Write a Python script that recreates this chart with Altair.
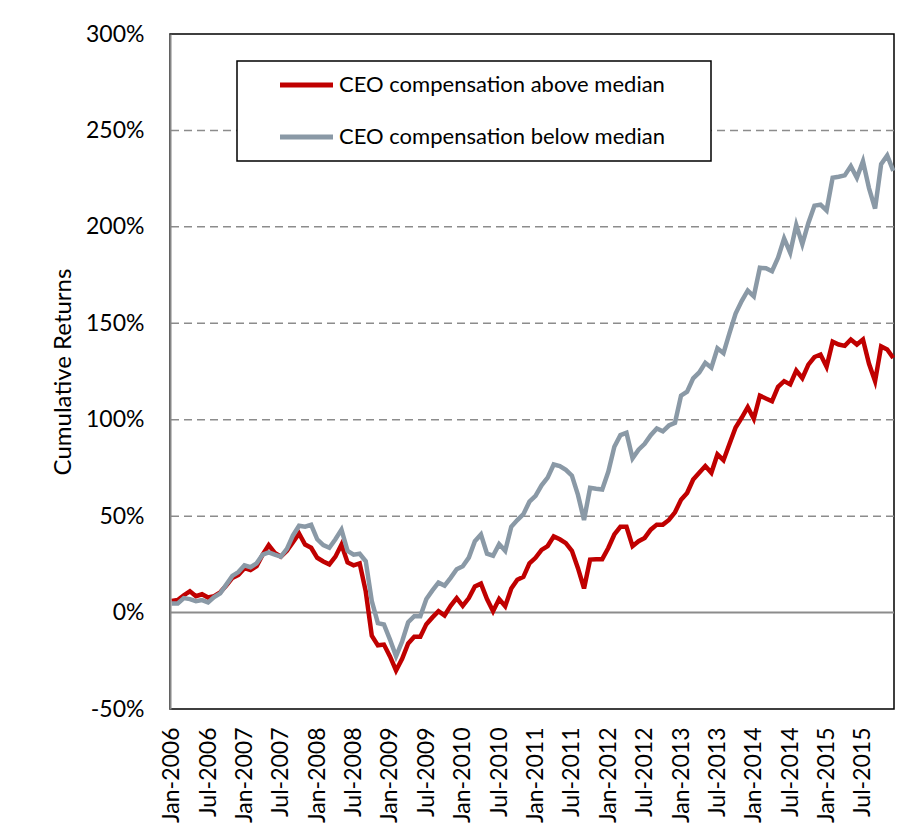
import json
import altair as alt
import pandas as pd

# ---------------- data ----------------
series_names = ["CEO compensation above median", "CEO compensation below median"]
series_colors = ["#C00000", "#8A99A6"]

# monthly cumulative returns (%), Jan-2006 .. Dec-2015
above_median = [
    6, 6.5, 9, 11, 8.5, 9.5, 7.8, 8.5, 10.5, 14,
    18, 19.5, 23, 22, 24, 30, 35, 31, 29, 32,
    36.5, 41, 35.3, 33.6, 28.4, 26.5, 25, 29, 35.3, 26,
    24.5, 25.5, 11, -12, -17, -16.6, -22.7, -30, -24, -16,
    -12.5, -12.5, -6, -2.5, 0.7, -1.5, 3.5, 7.5, 3.5, 7.5,
    13.5, 15, 7, 0.7, 7, 3.3, 12.5, 17, 18.5, 25.5,
    28.4, 32.5, 34.5, 39.5, 38, 36, 32, 23, 12.5, 27.5,
    27.7, 27.7, 33.5, 40.5, 44.5, 44.5, 34.4, 37, 38.7, 43,
    45.6, 45.6, 48, 52, 58.5, 62, 69, 72.5, 76, 72.5,
    82, 79, 87.5, 96, 101, 106.5, 100.5, 112.5, 111, 109.6,
    117, 120, 118.3, 125.5, 121.5, 128.6, 132.5, 133.8, 127.5, 140.5,
    139, 138.3, 141.6, 139, 141.6, 129, 120, 138, 136.4, 132,
]
below_median = [
    4.7, 4.7, 7.5, 7, 5.9, 6.5, 5.3, 8, 10, 14.5,
    19, 21, 24.5, 23.5, 25.5, 30, 31.2, 30, 29, 33,
    40, 45, 44.5, 45.5, 38, 35, 33.6, 38, 43, 32,
    30, 30.5, 26.6, 6, -5.5, -6.2, -14, -22.7, -15, -5,
    -1.9, -1.9, 7, 11.5, 15.5, 14, 18, 22.5, 24, 28.5,
    37, 40.5, 30.5, 29.5, 35.5, 32, 44.5, 48, 51, 57.5,
    60.5, 66, 70, 76.8, 76, 74, 71, 61, 48, 64.7,
    64.2, 63.8, 73, 86, 92, 93.2, 80, 84.5, 87.5, 92,
    95.5, 94, 97, 98.4, 112.5, 114.5, 121.5, 124.5, 129.5, 127,
    137, 134.5, 145, 155, 161.5, 167, 164, 178.8, 178.5, 177,
    184, 194, 186.6, 201, 191, 202, 211, 211.5, 208.5, 225.5,
    226, 226.7, 231.5, 225.5, 234, 220, 209.5, 232.5, 237, 229,
]
tick_labels = [
    "Jan-2006", "Jul-2006", "Jan-2007", "Jul-2007", "Jan-2008", "Jul-2008",
    "Jan-2009", "Jul-2009", "Jan-2010", "Jul-2010", "Jan-2011", "Jul-2011",
    "Jan-2012", "Jul-2012", "Jan-2013", "Jul-2013", "Jan-2014", "Jul-2014",
    "Jan-2015", "Jul-2015",
]
y_ticks = [-50, 0, 50, 100, 150, 200, 250, 300]
grid_values = [50, 100, 150, 200, 250]
zero_values = [0]

n = len(above_median)
df = pd.DataFrame({
    "month": list(range(n)) * 2,
    "value": above_median + below_median,
    "series": [series_names[0]] * n + [series_names[1]] * n,
})

# ---------------- styling ----------------
FONT = "Lato"
FS_LABEL = 23
FS_TITLE = 24
FS_LEGEND = 22
W, H = 724, 675

x_scale = alt.Scale(domain=[-0.28, n - 1 + 0.12], nice=False, zero=False)
y_scale = alt.Scale(domain=[-50, 300], nice=False, zero=False)
color_scale = alt.Scale(domain=series_names, range=series_colors)

label_expr = json.dumps(tick_labels) + "[round(datum.value / 6)]"

x_axis = alt.Axis(
    values=list(range(0, 6 * len(tick_labels), 6)), labelExpr=label_expr,
    labelAngle=-90, labelAlign="right", labelBaseline="middle", labelPadding=18,
    labelFlush=False, labelOverlap=False, ticks=False, tickSize=0, domain=False,
    grid=False, title=None, labelFont=FONT, labelFontSize=FS_LABEL, labelColor="black",
)
y_axis = alt.Axis(
    values=y_ticks, labelExpr="datum.value + '%'", ticks=False, tickSize=0,
    domain=True, domainColor="#868686", domainWidth=2, grid=False,
    labelPadding=26, labelFlush=False, labelOverlap=False,
    labelFont=FONT, labelFontSize=FS_LABEL, labelColor="black",
    title="Cumulative Returns", titleX=-107, titleY=H / 2, titleAngle=-90,
    titleAlign="center", titleBaseline="middle", titleFont=FONT,
    titleFontSize=FS_TITLE, titleFontWeight="normal", titleColor="black", zindex=1,
)

grid = alt.Chart(pd.DataFrame({"v": grid_values})).mark_rule(
    color="#8C8C8C", strokeWidth=1.5, strokeDash=[8, 5]
).encode(y=alt.Y("v:Q", scale=y_scale, axis=y_axis))

zero = alt.Chart(pd.DataFrame({"v": zero_values})).mark_rule(
    color="#8C8C8C", strokeWidth=2
).encode(y=alt.Y("v:Q", scale=y_scale, axis=y_axis))

lines = []
for name in series_names:
    lines.append(
        alt.Chart(df).transform_filter(alt.datum.series == name).mark_line(
            strokeWidth=4.5
        ).encode(
            x=alt.X("month:Q", scale=x_scale, axis=x_axis),
            y=alt.Y("value:Q", scale=y_scale, axis=y_axis),
            color=alt.Color("series:N", scale=color_scale, legend=None),
        )
    )

# ---------------- legend box (layout in px) ----------------
one = pd.DataFrame({"k": [0]})
legend_box = alt.Chart(one).mark_rect(
    fill="white", stroke="black", strokeWidth=1.5
).encode(x=alt.value(67), x2=alt.value(541), y=alt.value(27), y2=alt.value(127))

legend_layers = [legend_box]
row_y = [51, 103]
for name, col, ry in zip(series_names, series_colors, row_y):
    legend_layers.append(
        alt.Chart(one).mark_rule(color=col, strokeWidth=5).encode(
            x=alt.value(110), x2=alt.value(163), y=alt.value(ry)
        )
    )
    legend_layers.append(
        alt.Chart(one).mark_text(
            align="left", baseline="middle", font=FONT, fontSize=FS_LEGEND, color="black"
        ).encode(x=alt.value(169), y=alt.value(ry), text=alt.value(name))
    )

chart = alt.layer(grid, zero, *lines, *legend_layers).properties(
    width=W, height=H,
    autosize=alt.AutoSizeParams(type="none"),
    padding={"left": 162, "top": 26, "right": 16, "bottom": 120},
    background="white",
).configure_view(stroke="black", strokeWidth=1.5)

chart.save("out.html", embed_options={"renderer": "svg", "actions": False})
